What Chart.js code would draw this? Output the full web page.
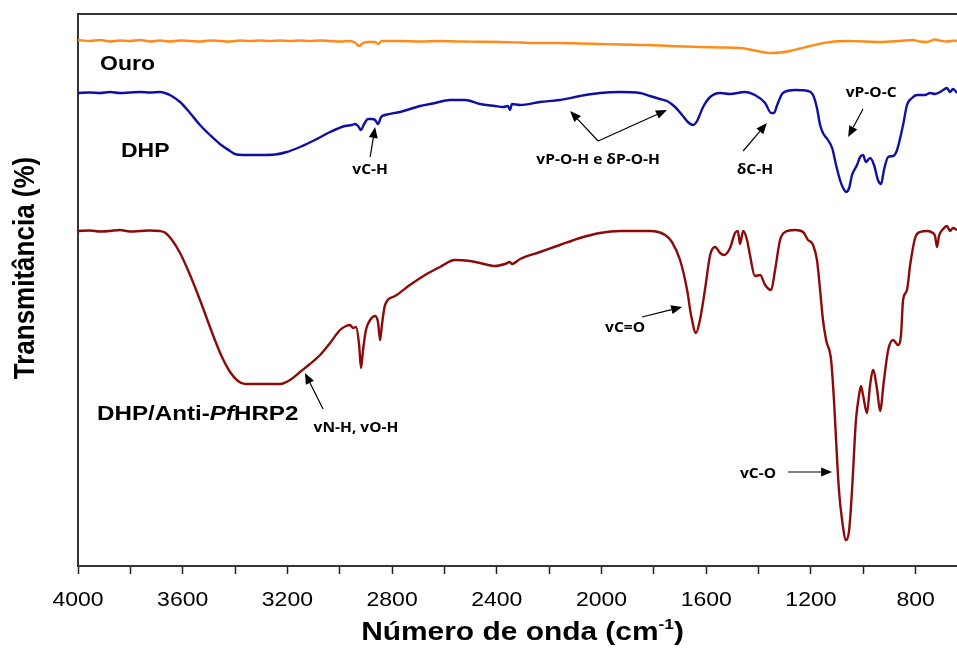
<!DOCTYPE html>
<html lang="pt">
<head>
<meta charset="utf-8">
<title>FTIR - Ouro, DHP, DHP/Anti-PfHRP2</title>
<script src="https://cdn.jsdelivr.net/npm/chart.js@4.4.1/dist/chart.umd.min.js"></script>
<style>
  html, body { margin: 0; padding: 0; background: #fff; }
</style>
</head>
<body>
<canvas id="ftirChart" width="957" height="649"></canvas>
<script>
// Espectros FTIR: número de onda (cm-1) e transmitância (curvas deslocadas, unidades arbitrárias)
const ouroX = [4000, 3954, 3916, 3878, 3840, 3801, 3763, 3725, 3687, 3649, 3610, 3572, 3534, 3496, 3458, 3419, 3381, 3343, 3305, 3266,
  3228, 3190, 3152, 3114, 3075, 3037, 2999, 2961, 2942, 2926, 2911, 2892, 2865, 2854, 2839, 2770, 2693, 2617, 2541, 2464,
  2388, 2311, 2235, 2159, 2082, 2006, 1929, 1826, 1738, 1624, 1547, 1471, 1406, 1356, 1318, 1280, 1242, 1203, 1127, 1054,
  936, 860, 810, 783, 756, 726, 707, 680, 650, 642];
const ouroY = [52.6, 52.5, 52.6, 52.45, 52.55, 52.5, 52.6, 52.45, 52.55, 52.45, 52.55, 52.5, 52.45, 52.55, 52.5, 52.45, 52.55, 52.5, 52.55, 52.5,
  52.55, 52.5, 52.55, 52.5, 52.55, 52.5, 52.45, 52.5, 52.35, 52.0, 52.3, 52.4, 52.4, 52.2, 52.5, 52.5, 52.45, 52.5, 52.45, 52.43,
  52.4, 52.35, 52.3, 52.3, 52.25, 52.2, 52.15, 52.1, 52.0, 51.9, 51.85, 51.8, 51.5, 51.3, 51.35, 51.5, 51.75, 52.0, 52.4, 52.5,
  52.4, 52.5, 52.6, 52.45, 52.4, 52.65, 52.55, 52.45, 52.55, 52.5];

const dhpX = [4000, 3954, 3916, 3878, 3840, 3801, 3763, 3725, 3687, 3668, 3649, 3610, 3572, 3534, 3496, 3458, 3419, 3400, 3362, 3305,
  3247, 3202, 3152, 3095, 3037, 2980, 2953, 2942, 2930, 2919, 2907, 2892, 2877, 2865, 2854, 2842, 2827, 2770, 2693, 2636,
  2579, 2521, 2464, 2407, 2376, 2357, 2350, 2342, 2311, 2235, 2159, 2082, 2006, 1929, 1853, 1815, 1777, 1750, 1719, 1692,
  1670, 1650, 1635, 1612, 1585, 1547, 1509, 1452, 1414, 1375, 1352, 1341, 1329, 1307, 1261, 1211, 1192, 1177, 1165, 1154,
  1135, 1119, 1104, 1089, 1077, 1066, 1054, 1043, 1024, 1012, 1001, 990, 974, 959, 944, 932, 921, 905, 886, 871,
  848, 833, 814, 795, 764, 745, 726, 707, 695, 680, 669, 657, 642];
const dhpY = [47.3, 47.35, 47.3, 47.4, 47.3, 47.35, 47.4, 47.35, 47.4, 47.3, 47.1, 46.4, 45.3, 44.1, 43.1, 42.2, 41.5, 41.2, 41.1, 41.1,
  41.15, 41.4, 41.9, 42.6, 43.4, 44.0, 44.1, 44.2, 44.0, 43.6, 44.2, 44.7, 44.7, 44.6, 44.2, 44.9, 45.1, 45.4, 46.0, 46.3,
  46.6, 46.6, 46.2, 46.0, 45.9, 46.0, 45.6, 46.2, 46.1, 46.4, 46.6, 47.0, 47.3, 47.4, 47.3, 47.0, 46.7, 46.5, 45.9, 45.1,
  44.4, 44.1, 44.5, 45.9, 46.9, 47.3, 47.2, 47.4, 47.1, 46.3, 45.3, 45.3, 46.1, 47.3, 47.6, 47.5, 47.1, 45.8, 44.1, 43.3,
  42.6, 41.8, 40.1, 38.6, 37.8, 37.4, 37.8, 39.1, 40.1, 40.9, 41.1, 40.4, 40.8, 40.1, 38.6, 38.2, 39.6, 40.9, 41.0, 41.6,
  44.1, 46.1, 46.8, 47.1, 47.1, 47.3, 47.2, 47.4, 47.6, 47.8, 47.4, 47.7, 47.3];

const antiX = [4000, 3954, 3916, 3878, 3840, 3801, 3763, 3725, 3687, 3668, 3641, 3610, 3572, 3534, 3503, 3477, 3450, 3419, 3389, 3362,
  3305, 3228, 3190, 3152, 3114, 3075, 3037, 2999, 2976, 2961, 2949, 2938, 2926, 2919, 2911, 2900, 2884, 2865, 2854, 2846,
  2839, 2827, 2789, 2732, 2674, 2617, 2560, 2502, 2464, 2407, 2369, 2350, 2342, 2311, 2235, 2159, 2082, 2006, 1929, 1853,
  1815, 1757, 1731, 1700, 1673, 1658, 1639, 1624, 1605, 1585, 1566, 1547, 1532, 1509, 1490, 1479, 1471, 1459, 1444, 1433,
  1414, 1394, 1375, 1352, 1337, 1318, 1299, 1261, 1230, 1211, 1200, 1192, 1177, 1165, 1154, 1142, 1123, 1112, 1104, 1093,
  1081, 1066, 1054, 1043, 1028, 1016, 1009, 1001, 986, 974, 963, 947, 936, 921, 905, 886, 867, 856, 848, 833,
  821, 802, 783, 756, 734, 726, 718, 711, 695, 680, 669, 657, 642];
const antiY = [33.5, 33.55, 33.45, 33.5, 33.6, 33.45, 33.5, 33.55, 33.5, 33.35, 32.6, 31.3, 29.1, 26.6, 24.4, 22.6, 20.9, 19.4, 18.5, 18.2,
  18.2, 18.2, 18.6, 19.4, 20.2, 21.1, 22.3, 23.6, 24.0, 24.1, 23.8, 23.9, 22.1, 19.8, 21.6, 23.6, 24.6, 25.0, 24.4, 22.6,
  24.1, 26.1, 27.0, 28.1, 29.1, 29.9, 30.6, 30.5, 30.3, 30.0, 30.2, 30.4, 30.2, 30.7, 31.4, 32.1, 32.8, 33.3, 33.5, 33.5,
  33.5, 33.1, 32.4, 30.6, 27.6, 25.1, 23.3, 24.6, 27.6, 31.1, 31.9, 31.3, 31.1, 31.8, 33.3, 33.5, 32.2, 33.5, 32.6, 31.1,
  29.0, 29.1, 28.1, 27.6, 29.6, 32.6, 33.4, 33.6, 33.4, 32.6, 32.4, 32.1, 30.6, 27.6, 24.6, 22.6, 20.6, 16.6, 12.6, 7.6,
  4.6, 2.6, 3.6, 7.6, 14.6, 17.1, 18.0, 17.1, 15.3, 18.1, 19.6, 17.6, 15.5, 18.6, 21.6, 22.6, 22.1, 23.1, 26.6, 27.6,
  30.1, 32.8, 33.4, 33.5, 33.3, 33.0, 31.9, 33.0, 33.7, 34.0, 33.5, 33.8, 33.6];

const xTicks = [4000, 3600, 3200, 2800, 2400, 2000, 1600, 1200, 800];

// rótulos das amostras e atribuições das bandas (posições em unidades dos eixos)
const amostras = [
  { partes: [['Ouro', false]], tam: 20, pos: [3916, 49.6] },
  { partes: [['DHP', false]], tam: 20, pos: [3836, 40.9] },
  { partes: [['DHP/Anti-', false], ['Pf', true], ['HRP2', false]], tam: 21, pos: [3927, 14.6] }
];

const bandas = [
  { texto: 'vC-H', pos: [2884, 39.6], setas: [[[2884, 40.9], [2865, 43.9]]] },
  { texto: 'vP-O-H e δP-O-H', pos: [2013, 40.6], setas: [[[2013, 42.5], [2120, 45.5]], [[2013, 42.5], [1750, 45.6]]] },
  { texto: 'δC-H', pos: [1414, 39.6], setas: [[[1459, 41.5], [1368, 44.3]]] },
  { texto: 'vP-O-C', pos: [970, 47.3], setas: [[[1001, 45.7], [1058, 42.9]]] },
  { texto: 'vC=O', pos: [1910, 23.8], setas: [[[1845, 24.9], [1692, 25.9]]] },
  { texto: 'vC-O', pos: [1402, 9.2], setas: [[[1288, 9.4], [1119, 9.4]]] },
  { texto: 'vN-H, vO-H', pos: [2938, 13.8], setas: [[[3064, 15.7], [3133, 19.3]]] }
];

const FONTE = '"Liberation Sans", Arial, sans-serif';
const FONTE_BANDAS = '"Open Sans", "Liberation Sans", sans-serif';
const ESTICA = 1.15;  // texto levemente alargado na horizontal

function serie(xs, ys) {
  return xs.map((x, i) => ({ x: x, y: ys[i] }));
}

// escreve um texto em partes (fontes diferentes), alargado na horizontal
function escrever(ctx, partes, x, y, alinhamento) {
  let total = 0;
  partes.forEach(p => {
    ctx.font = p.font;
    p.w = ctx.measureText(p.t).width * ESTICA;
    total += p.w;
  });
  let cx = alinhamento === 'center' ? x - total / 2 : x;
  partes.forEach(p => {
    ctx.save();
    ctx.font = p.font;
    ctx.textAlign = 'left';
    ctx.translate(cx, y + (p.dy || 0));
    ctx.scale(ESTICA, 1);
    ctx.fillText(p.t, 0, 0);
    ctx.restore();
    cx += p.w;
  });
}

function seta(ctx, x0, y0, x1, y1) {
  const ang = Math.atan2(y1 - y0, x1 - x0);
  const comp = 11, meia = 4.5;
  const bx = x1 - comp * Math.cos(ang), by = y1 - comp * Math.sin(ang);
  ctx.beginPath();
  ctx.moveTo(x0, y0);
  ctx.lineTo(bx, by);
  ctx.stroke();
  ctx.beginPath();
  ctx.moveTo(x1, y1);
  ctx.lineTo(bx + meia * Math.sin(ang), by - meia * Math.cos(ang));
  ctx.lineTo(bx - meia * Math.sin(ang), by + meia * Math.cos(ang));
  ctx.closePath();
  ctx.fill();
}

const decoracao = {
  id: 'decoracao',
  afterDraw(chart) {
    const ctx = chart.ctx;
    const area = chart.chartArea;
    const xs = chart.scales.x, ys = chart.scales.y;
    ctx.save();

    // borda superior
    ctx.strokeStyle = '#333';
    ctx.lineWidth = 2;
    ctx.beginPath();
    ctx.moveTo(area.left, area.top);
    ctx.lineTo(area.right, area.top);
    ctx.stroke();

    ctx.fillStyle = '#000';
    ctx.textBaseline = 'middle';

    // rótulos do eixo x
    xTicks.forEach(v => {
      escrever(ctx, [{ t: String(v), font: '20px ' + FONTE }], xs.getPixelForValue(v), area.bottom + 34, 'center');
    });

    // título do eixo x com sobrescrito
    const fTit = 'bold 26px ' + FONTE;
    escrever(ctx, [
      { t: 'Número de onda (cm', font: fTit },
      { t: '-1', font: 'bold 15px ' + FONTE, dy: -8 },
      { t: ')', font: fTit }
    ], (area.left + area.right) / 2 + 5, area.bottom + 67, 'center');

    // título do eixo y
    ctx.save();
    ctx.translate(26, (area.top + area.bottom) / 2 - 22);
    ctx.rotate(-Math.PI / 2);
    ctx.scale(1, ESTICA);
    ctx.font = fTit;
    ctx.textAlign = 'center';
    ctx.fillText('Transmitância (%)', 0, 0);
    ctx.restore();

    // nomes das amostras
    ctx.textBaseline = 'alphabetic';
    amostras.forEach(a => {
      const partes = a.partes.map(([t, it]) => ({ t: t, font: (it ? 'italic ' : '') + 'bold ' + a.tam + 'px ' + FONTE }));
      escrever(ctx, partes, xs.getPixelForValue(a.pos[0]), ys.getPixelForValue(a.pos[1]), 'left');
    });

    // atribuições das bandas
    ctx.textBaseline = 'middle';
    ctx.strokeStyle = '#000';
    ctx.lineWidth = 1.2;
    bandas.forEach(b => {
      escrever(ctx, [{ t: b.texto, font: 'bold 13.5px ' + FONTE_BANDAS }],
        xs.getPixelForValue(b.pos[0]), ys.getPixelForValue(b.pos[1]), 'center');
      b.setas.forEach(([de, para]) => {
        seta(ctx, xs.getPixelForValue(de[0]), ys.getPixelForValue(de[1]),
          xs.getPixelForValue(para[0]), ys.getPixelForValue(para[1]));
      });
    });

    ctx.restore();
  }
};

const linha = {
  borderWidth: 2.4,
  pointRadius: 0,
  cubicInterpolationMode: 'monotone',
  fill: false
};

new Chart(document.getElementById('ftirChart'), {
  type: 'line',
  data: {
    datasets: [
      Object.assign({ label: 'Ouro', data: serie(ouroX, ouroY), borderColor: '#ff8c1a' }, linha),
      Object.assign({ label: 'DHP', data: serie(dhpX, dhpY), borderColor: '#0f0fa3' }, linha),
      Object.assign({ label: 'DHP/Anti-PfHRP2', data: serie(antiX, antiY), borderColor: '#8b0b0b' }, linha)
    ]
  },
  options: {
    responsive: false,
    animation: false,
    layout: { padding: { left: 78, top: 14, right: 0, bottom: 75 } },
    plugins: {
      legend: { display: false },
      tooltip: { enabled: false }
    },
    scales: {
      x: {
        type: 'linear',
        reverse: true,
        min: 642,
        max: 4000,
        afterBuildTicks: axis => {
          axis.ticks = axis.ticks.filter(t => t.value % 200 === 0);
        },
        ticks: { display: false, stepSize: 200 },
        grid: { drawOnChartArea: false, drawTicks: true, tickLength: 8, tickColor: '#222', tickWidth: 1.5 },
        border: { display: true, color: '#333', width: 2 }
      },
      y: {
        min: 0,
        max: 55.2,
        ticks: { display: false },
        grid: { display: false, drawTicks: false },
        border: { display: true, color: '#333', width: 2 }
      }
    }
  },
  plugins: [decoracao]
});
</script>
</body>
</html>
